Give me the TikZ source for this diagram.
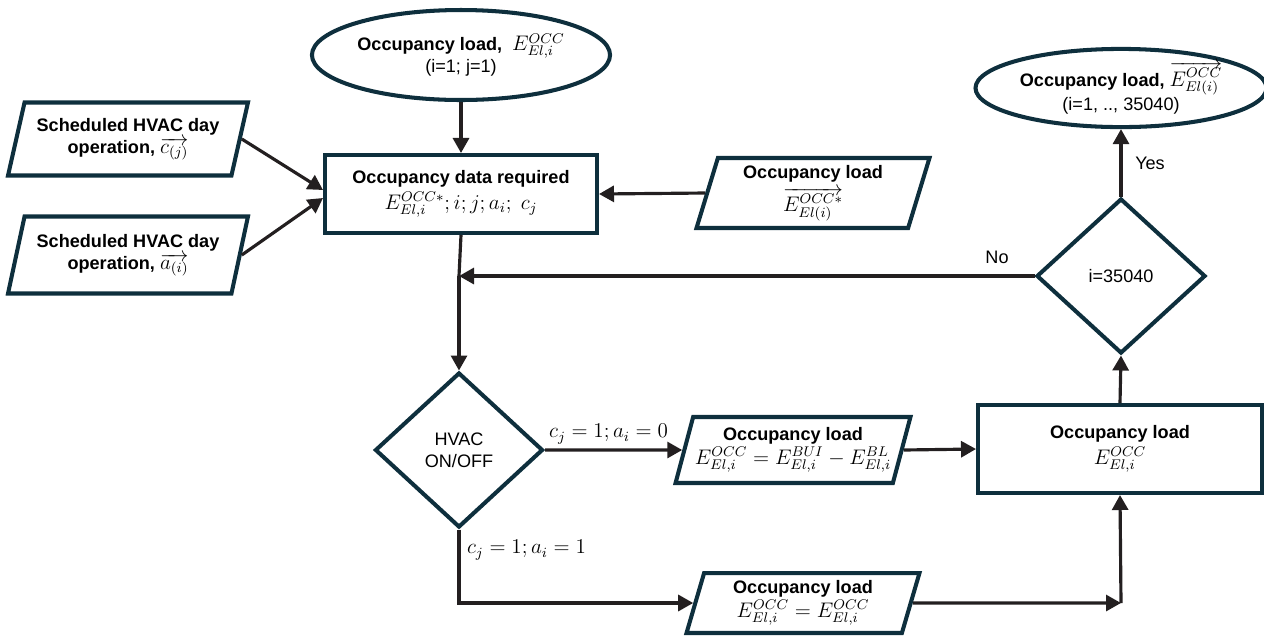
\documentclass[tikz,border=0pt]{standalone}
\usepackage[no-math]{fontspec}
\setmainfont{Liberation Sans}
\usepackage{tikz}
\usetikzlibrary{calc}
\usetikzlibrary{arrows.meta}
\usetikzlibrary{shapes.geometric}
\definecolor{edgecol}{HTML}{0E2F3D}
\definecolor{linecol}{HTML}{231F20}
\newcommand{\mth}[1]{{\fontsize{11.8}{13}\selectfont$#1$}}
\tikzset{startend/.style={ellipse,draw=edgecol,line width=2.3pt,fill=white,align=center,inner sep=1pt}}
\tikzset{process/.style={rectangle,draw=edgecol,line width=2.3pt,fill=white,align=center}}
\tikzset{inout/.style={trapezium,trapezium left angle=70,trapezium right angle=110,trapezium stretches body,draw=edgecol,line width=2.3pt,fill=white,align=center,inner sep=1pt}}
\tikzset{decision/.style={diamond,draw=edgecol,line width=2.3pt,fill=white,align=center,inner sep=0pt}}
\tikzset{flow/.style={draw=linecol,line width=1.8pt,-{Triangle[length=0.3cm,width=0.32cm]}}}
\tikzset{plain/.style={draw=linecol,line width=1.8pt}}
\tikzset{cond/.style={inner sep=1pt}}

\begin{document}
\begin{tikzpicture}[x=0.02cm,y=-0.02cm,font=\fontsize{10.3}{12.5}\selectfont]
\useasboundingbox (0,0) rectangle (1264,637);

  % start / end
  \node[startend,minimum width=5.44cm,minimum height=1.8cm] (start) at (461,55)
    {\textbf{Occupancy load,}~ \mth{E^{OCC}_{El,i}}\\(i=1; j=1)};
  \node[startend,minimum width=5.4cm,minimum height=1.36cm] (finish) at (1121,88)
    {\textbf{Occupancy load,} \mth{\overrightarrow{E^{OCC}_{El(i)}}}\\[1pt](i=1, .., 35040)};

  % inputs
  \node[inout,minimum width=4.8cm,minimum height=1.46cm] (schedc) at (128,139)
    {\textbf{Scheduled HVAC day}\\\textbf{operation,} \mth{\overrightarrow{c_{(j)}}}};
  \node[inout,minimum width=4.8cm,minimum height=1.54cm] (scheda) at (128,255)
    {\textbf{Scheduled HVAC day}\\\textbf{operation,} \mth{\overrightarrow{a_{(i)}}}};
  \node[inout,minimum width=4.66cm,minimum height=1.4cm] (occstar) at (813,193)
    {\textbf{Occupancy load}\\[2pt]\mth{\overrightarrow{E^{OCC*}_{El(i)}}}};

  % main box
  \node[process,minimum width=5.44cm,minimum height=1.56cm] (data) at (461,194)
    {\textbf{Occupancy data required}\\[2pt]\mth{E^{OCC*}_{El,i}; i; j; a_i;\ c_j}};

  % decisions
  \node[decision,minimum width=3.36cm,minimum height=3.1cm] (hvac) at (459,450)
    {HVAC\\ON/OFF};
  \node[decision,minimum width=3.38cm,minimum height=3.1cm] (last) at (1121,276)
    {i=35040};

  % loads
  \node[inout,minimum width=4.66cm,minimum height=1.32cm] (diffload) at (793,450)
    {\textbf{Occupancy load}\\[1pt]\mth{E^{OCC}_{El,i}=E^{BUI}_{El,i}-E^{BL}_{El,i}}};
  \node[inout,minimum width=4.66cm,minimum height=1.2cm] (sameload) at (803,603)
    {\textbf{Occupancy load}\\[1pt]\mth{E^{OCC}_{El,i}=E^{OCC}_{El,i}}};
  \node[process,minimum width=5.68cm,minimum height=1.76cm] (occload) at (1120,449)
    {\textbf{Occupancy load}\\[2pt]\mth{E^{OCC}_{El,i}}};

  \coordinate (loopin) at (459,276);
  \coordinate (join) at (1121,603);

  % connectors
  \draw[flow] (start) -- (data);
  \draw[flow] (schedc.east) -- ([yshift=0.08cm]data.west);
  \draw[flow] (scheda.east) -- ([yshift=-0.08cm]data.west);
  \draw[flow] (occstar.west) -- (data.east);
  \draw[plain] (data.south) -- (loopin);
  \draw[flow] (loopin) -- (hvac.north);
  \draw[flow] (last.west) -- (loopin);
  \draw[flow] (hvac.east) -- (diffload.west);
  \draw[flow] (hvac.south) |- (sameload.west);
  \draw[flow] (diffload.east) -- (occload.west);
  \draw[flow] (sameload.east) -- (join);
  \draw[flow] (join) -- (occload.south);
  \draw[flow] (occload.north) -- (last.south);
  \draw[flow] (last.north) -- (finish.south);

  % labels
  \node[cond,anchor=west] (lblon) at (547,434) {\mth{c_j=1;a_i=0}};
  \node[cond,anchor=west] (lbloff) at (465,550) {\mth{c_j=1;a_i=1}};
  \node[cond] (lblno) at (997,257) {No};
  \node[cond] (lblyes) at (1150,163) {Yes};
\end{tikzpicture}
\end{document}
